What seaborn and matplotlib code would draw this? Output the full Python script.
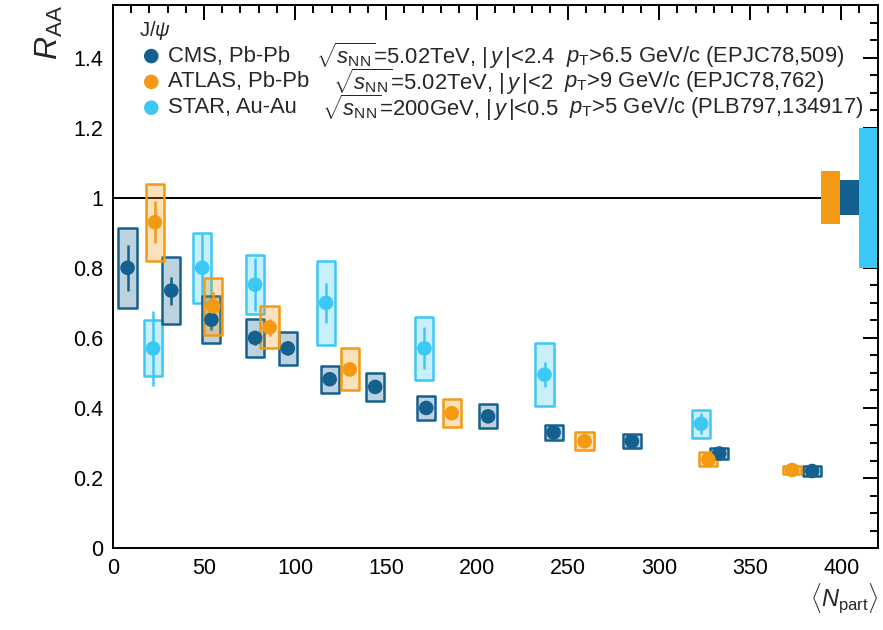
import numpy as np
import pandas as pd
import matplotlib
matplotlib.use("Agg")
import matplotlib.pyplot as plt
from matplotlib.patches import Rectangle
from matplotlib.ticker import MultipleLocator
import seaborn as sns

# ---------------- data ----------------
cms_x = [8, 32, 54, 78, 96, 119, 144, 172, 206, 242, 285, 333, 384]
cms_y = [0.80, 0.735, 0.652, 0.60, 0.57, 0.482, 0.46, 0.40, 0.376, 0.33, 0.305, 0.27, 0.22]
cms_stat = [0.065, 0.04, 0.03, 0.02, 0.02, 0.015, 0.015, 0.012, 0.01, 0.01, 0.008, 0.008, 0.006]
cms_sys = [0.115, 0.095, 0.067, 0.055, 0.048, 0.038, 0.04, 0.033, 0.034, 0.022, 0.02, 0.017, 0.015]

atlas_x = [23, 55, 86, 130, 186, 259, 327, 373]
atlas_y = [0.93, 0.69, 0.63, 0.51, 0.385, 0.305, 0.253, 0.223]
atlas_stat = [0.06, 0.04, 0.025, 0.02, 0.015, 0.01, 0.01, 0.008]
atlas_sys = [0.11, 0.082, 0.06, 0.06, 0.04, 0.025, 0.02, 0.012]

star_x = [22, 49, 78, 117, 171, 237, 323]
star_y = [0.57, 0.80, 0.752, 0.70, 0.57, 0.495, 0.355]
star_stat = [0.107, 0.10, 0.075, 0.058, 0.06, 0.036, 0.03]
star_sys = [0.08, 0.10, 0.085, 0.12, 0.09, 0.09, 0.04]

# global uncertainties (centered at 1)
glob_names = ["ATLAS", "CMS", "STAR"]
glob_x0 = [389, 399.5, 409.5]
glob_x1 = [399.5, 409.5, 419.5]
glob_unc = [0.075, 0.05, 0.20]

series_names = ["CMS", "ATLAS", "STAR"]
colors = {"CMS": "#14608f", "ATLAS": "#f39a12", "STAR": "#3cc8f4"}
legend_sys = ["CMS, Pb-Pb", "ATLAS, Pb-Pb", "STAR, Au-Au"]
legend_energy = [r"$\sqrt{s_{\rm NN}}$=5.02TeV, $|\,y\,|$<2.4",
                 r"$\sqrt{s_{\rm NN}}$=5.02TeV, $|\,y\,|$<2",
                 r"$\sqrt{s_{\rm NN}}$=200GeV, $|\,y\,|$<0.5"]
legend_pt = [r"$p_{\rm T}$>6.5 GeV/c (EPJC78,509)",
             r"$p_{\rm T}$>9 GeV/c (EPJC78,762)",
             r"$p_{\rm T}$>5 GeV/c (PLB797,134917)"]
seg_x2 = [0.2654, 0.2876, 0.2732]

# ---------------- style ----------------
sns.set_theme(style="white")
plt.rcParams["font.family"] = ["Liberation Sans", "DejaVu Sans"]
plt.rcParams["mathtext.fontset"] = "custom"
plt.rcParams["mathtext.rm"] = "Liberation Sans"
plt.rcParams["mathtext.it"] = "Liberation Sans:italic"
plt.rcParams["mathtext.bf"] = "Liberation Sans:bold"

fig = plt.figure(figsize=(8.83, 6.3), dpi=100)
ax = fig.add_axes([0.128, 0.130, 0.866, 0.862])

frames = []
for name, xs, ys, st, sy in [
    ("CMS", cms_x, cms_y, cms_stat, cms_sys),
    ("ATLAS", atlas_x, atlas_y, atlas_stat, atlas_sys),
    ("STAR", star_x, star_y, star_stat, star_sys),
]:
    frames.append(pd.DataFrame({"x": xs, "y": ys, "stat": st, "sys": sy, "exp": name}))
df = pd.concat(frames, ignore_index=True)

halfw = 5.0
order = ["STAR", "CMS", "ATLAS"]
for z, name in enumerate(order):
    sub = df[df.exp == name]
    c = colors[name]
    for _, r in sub.iterrows():
        ax.add_patch(Rectangle((r.x - halfw, r.y - r.sys), 2 * halfw, 2 * r.sys,
                               facecolor=matplotlib.colors.to_rgba(c, 0.28),
                               edgecolor=c, lw=1.8, zorder=2 + z * 3, joinstyle="round"))
    ax.errorbar(sub.x, sub.y, yerr=sub.stat, fmt="none", ecolor=c, elinewidth=1.8,
                capsize=0, zorder=3 + z * 3)

sns.scatterplot(data=df, x="x", y="y", hue="exp", hue_order=order,
                palette=colors, s=110, edgecolor="none", legend=False, ax=ax, zorder=10)

# global boxes
for name, x0, x1, u in zip(glob_names, glob_x0, glob_x1, glob_unc):
    ax.add_patch(Rectangle((x0, 1 - u), x1 - x0, 2 * u, facecolor=colors[name],
                           edgecolor="none", zorder=4))

ax.axhline(1.0, color="black", lw=1.4, zorder=3)

ax.set_xlim(0, 420)
ax.set_ylim(0, 1.55)
ax.xaxis.set_major_locator(MultipleLocator(50))
ax.xaxis.set_minor_locator(MultipleLocator(10))
ax.yaxis.set_major_locator(MultipleLocator(0.2))
ax.yaxis.set_minor_locator(MultipleLocator(0.05))
ax.yaxis.set_major_formatter(matplotlib.ticker.FuncFormatter(
    lambda v, p: "0" if abs(v) < 1e-9 else ("1" if abs(v - 1) < 1e-9 else f"{v:.1f}")))
ax.tick_params(which="both", direction="in", top=True, right=True, labelsize=15.5,
               width=1.4, colors="black")
ax.tick_params(which="major", length=11, pad=7)
ax.tick_params(which="minor", length=5.5)
for sp in ax.spines.values():
    sp.set_color("black")
    sp.set_linewidth(1.4)

ax.set_xlabel(r"$\langle N_{\rm part}\rangle$", fontsize=17, loc="right", labelpad=2)
ax.set_ylabel(r"$R_{\rm AA}$", fontsize=23, loc="top", labelpad=6)

# legend
fs = 15.8
renderer = fig.canvas.get_renderer()
ax_bb = ax.get_window_extent(renderer)
ax.text(0.034, 0.954, r"J/$\psi$", transform=ax.transAxes, fontsize=14.5,
        ha="left", va="center")
for i, name in enumerate(series_names):
    yy = 0.906 - i * 0.0475
    ax.scatter([0.05], [yy], transform=ax.transAxes, s=110, color=colors[name],
               edgecolor="none", zorder=20, clip_on=False)
    ax.text(0.072, yy, legend_sys[i], transform=ax.transAxes, fontsize=fs,
            ha="left", va="center")
    t2 = ax.text(seg_x2[i], yy, legend_energy[i], transform=ax.transAxes, fontsize=fs,
                 ha="left", va="center")
    bb = t2.get_window_extent(renderer)
    x3 = (bb.x1 + 11 - ax_bb.x0) / ax_bb.width
    ax.text(x3, yy, legend_pt[i], transform=ax.transAxes, fontsize=fs,
            ha="left", va="center")

fig.savefig("out.png", dpi=100)
